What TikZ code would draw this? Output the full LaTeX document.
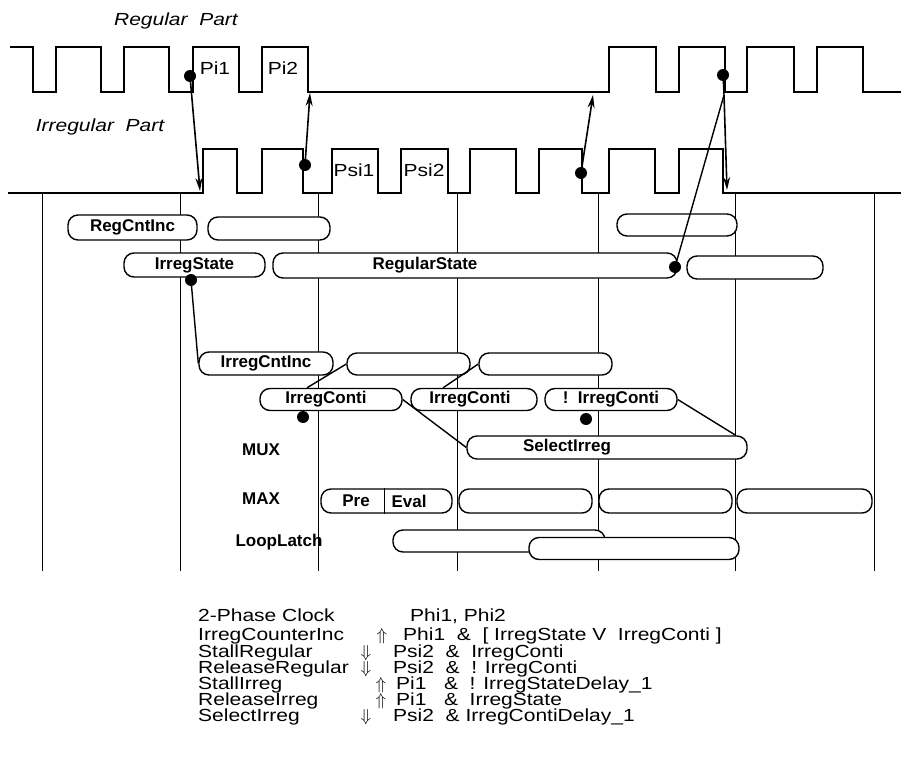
\documentclass[tikz,border=0pt]{standalone}
\usepackage{fontspec}
\setmainfont{Liberation Sans}
\usetikzlibrary{arrows.meta,calc}
\newcommand{\mywide}[1]{\scalebox{1.2}[1]{#1}}
\begin{document}
\begin{tikzpicture}[x=1pt,y=-1pt,
  pill/.style={draw, line width=1.4pt, fill=white, rounded corners=10pt, inner sep=0pt,
               font=\fontsize{17}{20}\selectfont\bfseries},
  boldlbl/.style={inner sep=0pt, font=\fontsize{17}{20}\selectfont\bfseries},
  reglbl/.style={inner sep=0pt, font=\fontsize{17.5}{20}\selectfont},
  itlbl/.style={inner sep=0pt, font=\fontsize{17.5}{20}\selectfont\itshape},
  legend/.style={inner sep=0pt, anchor=base west, font=\fontsize{17.5}{20}\selectfont},
  legarrow/.style={inner sep=0pt, anchor=base, font=\fontsize{17.5}{20}\selectfont},
  dot/.style={circle, fill=black, inner sep=0pt, minimum size=12pt},
  wave/.style={line width=2pt},
  gridline/.style={line width=0.9pt},
  conn/.style={line width=1.4pt},
  arr/.style={line width=1.6pt, -{Stealth[length=13pt,width=7pt]}}]
\useasboundingbox (0,0) rectangle (901,767);

% vertical time lines
\foreach \gx in {42,180,318,457,598,735,874}
  \draw[gridline] (\gx,193) -- (\gx,571);

% waveforms
\draw[wave] (10,47) -- (33,47) -- (33,92) -- (56,92) -- (56,47) -- (101,47) -- (101,92)
  -- (124,92) -- (124,47) -- (169,47) -- (169,92) -- (193,92) -- (193,47) -- (239,47) -- (239,92)
  -- (262,92) -- (262,47) -- (308,47) -- (308,92) -- (609,92) -- (609,47) -- (656,47) -- (656,92)
  -- (679,92) -- (679,47) -- (725,47) -- (725,92) -- (747,92) -- (747,47) -- (794,47) -- (794,92)
  -- (817,92) -- (817,47) -- (863,47) -- (863,92) -- (901,92);
\draw[wave] (8,193) -- (203,193) -- (203,149) -- (237,149) -- (237,193) -- (262,193) -- (262,149)
  -- (303,149) -- (303,193) -- (332,193) -- (332,149) -- (378,149) -- (378,193) -- (401,193)
  -- (401,149) -- (448,149) -- (448,193) -- (470,193) -- (470,149) -- (516,149) -- (516,193)
  -- (539,193) -- (539,149) -- (582,149) -- (582,193) -- (609,193) -- (609,149) -- (655,149)
  -- (655,193) -- (679,193) -- (679,149) -- (723,149) -- (723,193) -- (901,193);

% part labels
\node[itlbl] (regpart) at (176,21) {\mywide{Regular\ \ Part}};
\node[itlbl] (irrpart) at (100,127) {\mywide{Irregular\ \ Part}};
\node[reglbl] (pi1) at (215,68) {\mywide{Pi1}};
\node[reglbl] (pi2) at (283,68) {\mywide{Pi2}};
\node[reglbl] (psi1) at (354,170) {\mywide{Psi1}};
\node[reglbl] (psi2) at (424,170) {\mywide{Psi2}};

% pills
\node[pill, minimum width=129pt, minimum height=25pt] (rci) at (132.5,227.5) {RegCntInc};
\node[pill, minimum width=122pt, minimum height=23pt] (e1) at (269,228.5) {};
\node[pill, minimum width=120pt, minimum height=22pt] (e2) at (677,225) {};
\node[pill, minimum width=141pt, minimum height=24pt] (ist) at (194.5,265) {IrregState};
\node[pill, minimum width=404pt, minimum height=25pt] (rst) at (475,265.5) {\hspace*{-100pt}RegularState};
\node[pill, minimum width=136pt, minimum height=23pt] (e3) at (755,267.5) {};
\node[pill, minimum width=134pt, minimum height=23pt] (icc) at (266,363.5) {IrregCntInc};
\node[pill, minimum width=123pt, minimum height=22pt] (e4) at (408.5,364) {};
\node[pill, minimum width=133pt, minimum height=22pt] (e5) at (545.5,364) {};
\node[pill, minimum width=142pt, minimum height=22pt] (ic1) at (331,399.5) {\hspace*{-10pt}IrregConti};
\node[pill, minimum width=126pt, minimum height=22pt] (ic2) at (474,399.5) {\hspace*{-8pt}IrregConti};
\node[pill, minimum width=132pt, minimum height=22pt] (nic) at (611,399.5) {!\ \ IrregConti};
\node[pill, minimum width=280pt, minimum height=23pt] (sel) at (607,447.5) {\hspace*{-80pt}SelectIrreg};
\node[pill, minimum width=131pt, minimum height=24pt] (pe) at (386.5,501) {};
\node[pill, minimum width=133pt, minimum height=24pt] (m2) at (525.5,501) {};
\node[pill, minimum width=133pt, minimum height=24pt] (m3) at (665.5,501) {};
\node[pill, minimum width=135pt, minimum height=24pt] (m4) at (804.5,501) {};
\node[pill, minimum width=212pt, minimum height=22pt] (ll1) at (499,541) {};
\node[pill, minimum width=210pt, minimum height=22pt] (ll2) at (634,548.5) {};
\draw[line width=1pt] ($(pe.north)+(-2.5,0)$) -- ($(pe.south)+(-2.5,0)$);
\node[boldlbl] (pre) at (356,501) {Pre};
\node[boldlbl] (eval) at (409,501) {Eval};

% row labels
\node[boldlbl] (mux) at (261,450) {MUX};
\node[boldlbl] (max) at (261,499) {MAX};
\node[boldlbl] (loop) at (279,542) {LoopLatch};

% dots and connectors
\node[dot] (dA) at (190,76) {};
\node[dot] (dB) at (305,165) {};
\node[dot] (dC) at (581,173) {};
\node[dot] (dD) at (723,75) {};
\coordinate (tA) at (200,191);
\coordinate (tB) at (310,93);
\coordinate (tC) at (593,95);
\coordinate (split) at (724,95);
\coordinate (tD) at (727,190);
\draw[arr] (dA) -- (tA);
\draw[arr] (dB) -- (tB);
\draw[arr] (dC) -- (tC);
\draw[conn] (dD) -- (split);
\draw[arr] (split) -- (tD);
\node[dot] (dRS) at (675,267) {};
\draw[conn] (split) -- (dRS);

\node[dot] (dIS) at (191,280) {};
\draw[conn] (dIS) -- (icc.west);
\draw[conn] (e4.west) -- ($(ic1.north)+(-24,0)$);
\draw[conn] (e5.west) -- ($(ic2.north)+(-31,0)$);
\draw[conn] (ic1.east) -- (sel.west);
\draw[conn] (nic.east) -- ($(sel.north east)+(-12,0)$);
\node[dot] (dIC) at (303,417) {};
\node[dot] (dNIC) at (586,419) {};

% legend
\node[legend] (l1a) at (198,621) {\mywide{2-Phase Clock}};
\node[legend] (l1c) at (410,621) {\mywide{Phi1, Phi2}};
\node[legend] (l2a) at (198,640) {\mywide{IrregCounterInc}};
\node[legarrow] (l2b) at (382,640) {$\Uparrow$};
\node[legend] (l2c) at (403,640) {\mywide{Phi1\ \ \&\ \ [ IrregState V\ \ IrregConti ]}};
\node[legend] (l3a) at (198,657) {\mywide{StallRegular}};
\node[legarrow] (l3b) at (366,657) {$\Downarrow$};
\node[legend] (l3c) at (393,657) {\mywide{Psi2\ \ \&\ \ IrregConti}};
\node[legend] (l4a) at (198,673) {\mywide{ReleaseRegular}};
\node[legarrow] (l4b) at (366,673) {$\Downarrow$};
\node[legend] (l4c) at (393,673) {\mywide{Psi2\ \ \&\ \ ! IrregConti}};
\node[legend] (l5a) at (198,689) {\mywide{StallIrreg}};
\node[legarrow] (l5b) at (381,689) {$\Uparrow$};
\node[legend] (l5c) at (396,689) {\mywide{Pi1\ \ \ \&\ \ ! IrregStateDelay\_1}};
\node[legend] (l6a) at (198,705) {\mywide{ReleaseIrreg}};
\node[legarrow] (l6b) at (381,705) {$\Uparrow$};
\node[legend] (l6c) at (396,705) {\mywide{Pi1\ \ \ \&\ \ IrregState}};
\node[legend] (l7a) at (198,721) {\mywide{SelectIrreg}};
\node[legarrow] (l7b) at (366,721) {$\Downarrow$};
\node[legend] (l7c) at (393,721) {\mywide{Psi2\ \ \&\ IrregContiDelay\_1}};
\end{tikzpicture}
\end{document}
